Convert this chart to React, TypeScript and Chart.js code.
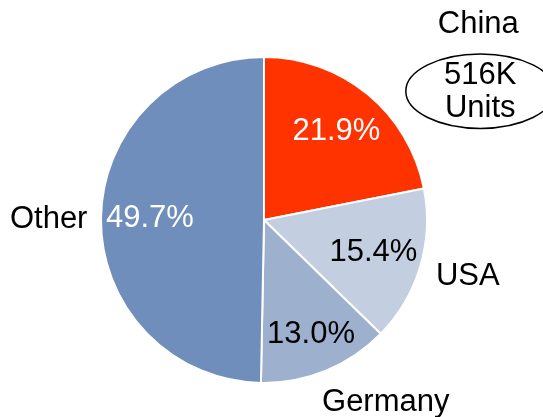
import React, { useEffect, useRef } from "react";
import { Chart, registerables } from "chart.js";

Chart.register(...registerables);

// Market share by country (percent of units)
const countries = ["China", "USA", "Germany", "Other"];
const shares = [21.9, 15.4, 13.0, 49.7];
const sliceColors = ["#FF3300", "#C3CEE1", "#9DB0CE", "#6F8EBB"];
const percentTextColors = ["#FFFFFF", "#000000", "#000000", "#FFFFFF"];
const chinaUnitsLabel = ["516K", "Units"];

// Label layout, in units of the pie radius
const innerLabelRadius = [0.7, 0.7, 0.76, 0.7];
const outerLabelOffsets: [number, number][] = [
  [1.315, -1.201],
  [1.25, 0.349],
  [0.747, 1.117],
  [-1.321, -0.006],
];
const calloutCenter: [number, number] = [1.327, -0.79];
const calloutRadii: [number, number] = [0.457, 0.228];
const calloutLineOffsets = [-0.096, 0.108];

const FONT = '31px "Liberation Sans", Arial, sans-serif';

const sliceLabels = {
  id: "sliceLabels",
  afterDatasetsDraw(chart: any) {
    const meta = chart.getDatasetMeta(0);
    const ctx: CanvasRenderingContext2D = chart.ctx;
    const first = meta.data[0];
    const { x: cx, y: cy, outerRadius: r } = first.getProps(["x", "y", "outerRadius"], true);
    ctx.save();
    ctx.font = FONT;
    ctx.textAlign = "center";
    ctx.textBaseline = "middle";
    meta.data.forEach((arc: any, i: number) => {
      const { startAngle, endAngle } = arc.getProps(["startAngle", "endAngle"], true);
      const mid = (startAngle + endAngle) / 2;
      const f = innerLabelRadius[i];
      ctx.fillStyle = percentTextColors[i];
      ctx.fillText(`${shares[i].toFixed(1)}%`, cx + Math.cos(mid) * r * f, cy + Math.sin(mid) * r * f);
      const [ox, oy] = outerLabelOffsets[i];
      ctx.fillStyle = "#000000";
      ctx.fillText(countries[i], cx + ox * r, cy + oy * r);
    });

    // Callout with China's unit volume
    const ex = cx + calloutCenter[0] * r;
    const ey = cy + calloutCenter[1] * r;
    ctx.beginPath();
    ctx.ellipse(ex, ey, calloutRadii[0] * r, calloutRadii[1] * r, 0, 0, Math.PI * 2);
    ctx.lineWidth = 1.5;
    ctx.strokeStyle = "#000000";
    ctx.stroke();
    ctx.fillStyle = "#000000";
    chinaUnitsLabel.forEach((line, k) => {
      ctx.fillText(line, ex, ey + calloutLineOffsets[k] * r);
    });
    ctx.restore();
  },
};

export default function App() {
  const canvasRef = useRef<HTMLCanvasElement | null>(null);

  useEffect(() => {
    if (!canvasRef.current) return;
    const chart = new Chart(canvasRef.current, {
      type: "pie",
      data: {
        labels: countries,
        datasets: [
          {
            data: shares,
            backgroundColor: sliceColors,
            borderColor: "#FFFFFF",
            borderWidth: 2,
            hoverBorderWidth: 2,
          },
        ],
      },
      options: {
        responsive: false,
        animation: false,
        layout: { padding: { left: 100, right: 115, top: 56, bottom: 33 } },
        plugins: {
          legend: { display: false },
          tooltip: { enabled: false },
        },
      },
      plugins: [sliceLabels],
    });
    return () => chart.destroy();
  }, []);

  return (
    <div style={{ position: "fixed", left: 0, top: 0, width: 543, height: 417, background: "#FFFFFF" }}>
      <canvas ref={canvasRef} width={543} height={417} />
    </div>
  );
}
